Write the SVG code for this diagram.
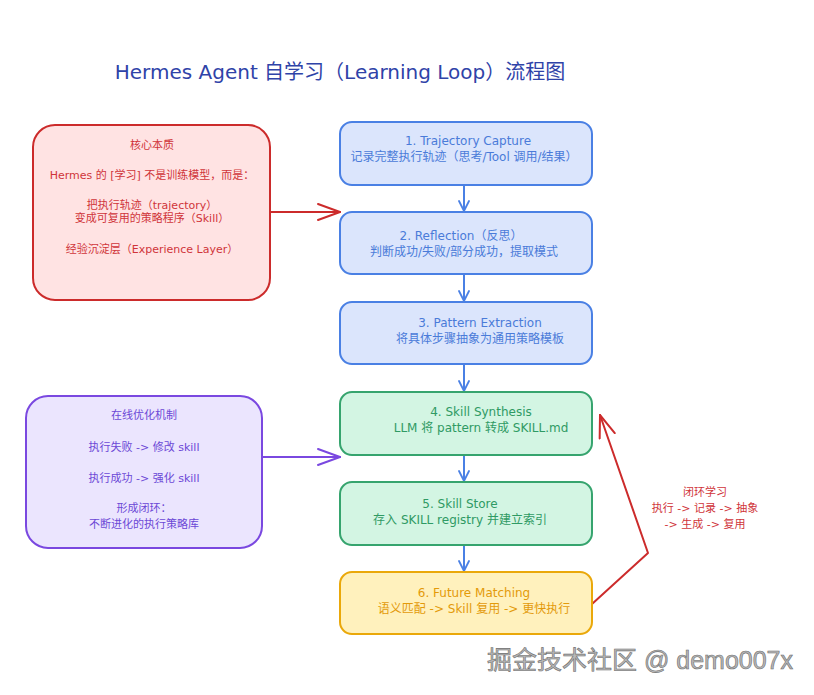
<svg xmlns="http://www.w3.org/2000/svg" width="814" height="695" viewBox="0 0 814 695">
<defs>
<style>
text{font-family:"DejaVu Sans","Noto Sans CJK SC",sans-serif;text-anchor:middle}
.t{font-size:12px}
.blue rect{fill:#dbe5fc;stroke:#4a80e4;stroke-width:2}
.blue text{fill:#4a7bd9}
.green rect{fill:#d3f5e3;stroke:#36a46e;stroke-width:2}
.green text{fill:#2f9a64}
.yellow rect{fill:#fff1bd;stroke:#eaa80a;stroke-width:2}
.yellow text{fill:#e39a0a}
.red rect{fill:#ffe3e3;stroke:#cc2b2b;stroke-width:2}
.red text{fill:#d0353a;font-size:11px}
.purple rect{fill:#ebe5fe;stroke:#7a48e0;stroke-width:2}
.purple text{fill:#6c48d6;font-size:11px}
.c{fill:none;stroke-width:2;stroke-linecap:round;stroke-linejoin:round}
</style>
<marker id="ab" viewBox="0 0 12 12" refX="11" refY="6" markerWidth="12" markerHeight="12" markerUnits="userSpaceOnUse" orient="auto"><path d="M1,1 L11,6 L1,11" fill="none" stroke="#4a80e4" stroke-width="1.8" stroke-linecap="round"/></marker>
<marker id="ar" viewBox="0 0 24 20" refX="23" refY="10" markerWidth="24" markerHeight="20" markerUnits="userSpaceOnUse" orient="auto"><path d="M1,2 L23,10 L1,18" fill="none" stroke="#cc2b2b" stroke-width="2" stroke-linecap="round"/></marker>
<marker id="ap" viewBox="0 0 24 20" refX="23" refY="10" markerWidth="24" markerHeight="20" markerUnits="userSpaceOnUse" orient="auto"><path d="M1,2 L23,10 L1,18" fill="none" stroke="#7a48e0" stroke-width="2" stroke-linecap="round"/></marker>
</defs>
<rect width="814" height="695" fill="#ffffff"/>
<text x="340" y="79" fill="#2f43a8" style="font-size:20px">Hermes Agent 自学习（Learning Loop）流程图</text>

<g id="connectors">
<path class="c" d="M270,212 L340,212" stroke="#cc2b2b" marker-end="url(#ar)"/>
<path class="c" d="M262,457 L340,457" stroke="#7a48e0" marker-end="url(#ap)"/>
<path class="c" d="M464,186 L464,211" stroke="#4a80e4" marker-end="url(#ab)"/>
<path class="c" d="M464,275 L464,301" stroke="#4a80e4" marker-end="url(#ab)"/>
<path class="c" d="M464,365 L464,391" stroke="#4a80e4" marker-end="url(#ab)"/>
<path class="c" d="M464,456 L464,481" stroke="#4a80e4" marker-end="url(#ab)"/>
<path class="c" d="M464,546 L464,571" stroke="#4a80e4" marker-end="url(#ab)"/>
<path class="c" d="M592,604 L648,553 L600,415" stroke="#cc2b2b" marker-end="url(#ar)"/>
<text x="705" y="496" fill="#d0353a" style="font-size:11px">闭环学习</text>
<text x="705" y="512" fill="#d0353a" style="font-size:11px">执行 -&gt; 记录 -&gt; 抽象</text>
<text x="705" y="528" fill="#d0353a" style="font-size:11px">-&gt; 生成 -&gt; 复用</text>
</g>

<g id="essence" class="red">
<rect x="33" y="125" width="237" height="175" rx="22"/>
<text x="152" y="149">核心本质</text>
<text x="152" y="179">Hermes 的 [学习] 不是训练模型，而是：</text>
<text x="152" y="209">把执行轨迹（trajectory）</text>
<text x="152" y="222">变成可复用的策略程序（Skill）</text>
<text x="152" y="253">经验沉淀层（Experience Layer）</text>
</g>

<g id="online" class="purple">
<rect x="26" y="396" width="236" height="152" rx="22"/>
<text x="144" y="419">在线优化机制</text>
<text x="144" y="451">执行失败 -&gt; 修改 skill</text>
<text x="144" y="482">执行成功 -&gt; 强化 skill</text>
<text x="144" y="512">形成闭环：</text>
<text x="144" y="528">不断进化的执行策略库</text>
</g>

<g id="n1" class="blue">
<rect x="340" y="122" width="252" height="63" rx="12"/>
<text class="t" x="468" y="145">1. Trajectory Capture</text>
<text class="t" x="464" y="161">记录完整执行轨迹（思考/Tool 调用/结果）</text>
</g>
<g id="n2" class="blue">
<rect x="340" y="212" width="252" height="62" rx="12"/>
<text class="t" x="461" y="240">2. Reflection（反思）</text>
<text class="t" x="464" y="256">判断成功/失败/部分成功，提取模式</text>
</g>
<g id="n3" class="blue">
<rect x="340" y="302" width="252" height="62" rx="12"/>
<text class="t" x="480" y="327">3. Pattern Extraction</text>
<text class="t" x="480" y="343">将具体步骤抽象为通用策略模板</text>
</g>
<g id="n4" class="green">
<rect x="340" y="392" width="252" height="63" rx="12"/>
<text class="t" x="481" y="416">4. Skill Synthesis</text>
<text class="t" x="481" y="432">LLM 将 pattern 转成 SKILL.md</text>
</g>
<g id="n5" class="green">
<rect x="340" y="482" width="252" height="63" rx="12"/>
<text class="t" x="460" y="508">5. Skill Store</text>
<text class="t" x="460" y="524">存入 SKILL registry 并建立索引</text>
</g>
<g id="n6" class="yellow">
<rect x="340" y="572" width="252" height="62" rx="12"/>
<text class="t" x="474" y="597">6. Future Matching</text>
<text class="t" x="474" y="613">语义匹配 -&gt; Skill 复用 -&gt; 更快执行</text>
</g>

<text x="640" y="669" fill="#b8b8b8" stroke="#6e6e6e" stroke-width="0.6" style="font-size:25px;font-family:'Liberation Sans','Noto Sans CJK SC',sans-serif">掘金技术社区 @ demo007x</text>
</svg>
